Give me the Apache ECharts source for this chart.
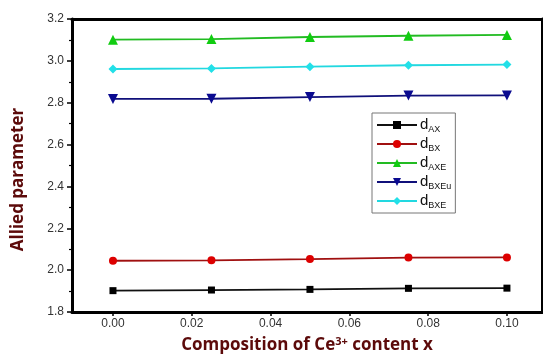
<!DOCTYPE html>
<html><head><meta charset="utf-8">
<script src="https://cdn.jsdelivr.net/npm/echarts@6/dist/echarts.min.js"></script>
<style>html,body{margin:0;padding:0;background:#fff}#c{width:543px;height:354px}</style>
</head><body><div id="c"></div>
<script>
const xValues = [0.00, 0.025, 0.05, 0.075, 0.10];
const xTicks = [0.00, 0.02, 0.04, 0.06, 0.08, 0.10];
const yTicks = [1.8, 2.0, 2.2, 2.4, 2.6, 2.8, 3.0, 3.2];
const dAX = [1.902, 1.905, 1.908, 1.913, 1.914];
const dBX = [2.045, 2.047, 2.053, 2.060, 2.061];
const dAXE = [3.101, 3.104, 3.114, 3.120, 3.124];
const dBXEu = [2.818, 2.819, 2.827, 2.834, 2.835];
const dBXE = [2.961, 2.964, 2.972, 2.979, 2.982];
const names = ['AX', 'BX', 'AXE', 'BXEu', 'BXE'];

const chart = echarts.init(document.getElementById('c'));
const pair = a => a.map((v, i) => [xValues[i], v]);
function mk(name, data, color, lineColor, symbol, size, rot) {
  return {
    name, type: 'line', data: pair(data), symbol, symbolSize: size, symbolRotate: rot || 0,
    lineStyle: { color: lineColor, width: 1.8 }, itemStyle: { color },
    emphasis: { disabled: true }
  };
}
const XMIN = -0.0104, XMAX = 0.1089;
const frame = { show: true, onZero: false, lineStyle: { color: '#000', width: 3 } };
chart.setOption({
  animation: false,
  textStyle: { fontFamily: 'Liberation Sans, Arial, sans-serif' },
  grid: { left: 72, right: 1, top: 19, bottom: 42, show: false, containLabel: false, outerBoundsMode: 'none' },
  legend: {
    orient: 'vertical', left: 372, top: 113,
    padding: [3, 4, 3, 4], itemGap: 1, itemWidth: 40, itemHeight: 10,
    borderColor: '#777', borderWidth: 1, backgroundColor: '#fff',
    data: names,
    formatter: n => '{d|d}{s|' + n + '}',
    textStyle: {
      padding: [0, 0, 0, -2],
      rich: {
        d: { fontSize: 15, color: '#111', lineHeight: 16 },
        s: { fontSize: 9, color: '#111', padding: [9, 0, 0, 0], lineHeight: 16 }
      }
    }
  },
  xAxis: [{
    type: 'value', min: XMIN, max: XMAX,
    name: '{a|Composition of Ce}{b|3+}{a| content x}', nameLocation: 'middle', nameGap: 24,
    nameTextStyle: { rich: {
      a: { fontSize: 17, fontWeight: 'bold', color: '#5c0a0a', fontFamily: 'Open Sans, sans-serif' },
      b: { fontSize: 11, fontWeight: 'bold', color: '#5c0a0a', padding: [0, 0, 8, 0], fontFamily: 'Open Sans, sans-serif' }
    } },
    axisLine: frame,
    axisTick: { show: true, length: 4, customValues: xTicks, lineStyle: { color: '#000', width: 1.5 } },
    axisLabel: { customValues: xTicks, formatter: v => v.toFixed(2), color: '#333', fontSize: 12, margin: 6 },
    splitLine: { show: false }
  }, {
    type: 'value', position: 'top', min: XMIN, max: XMAX,
    axisLine: frame, axisTick: { show: false }, axisLabel: { show: false }, splitLine: { show: false }
  }],
  yAxis: [{
    type: 'value', min: 1.8, max: 3.2, interval: 0.2,
    name: 'Allied parameter', nameLocation: 'middle', nameGap: 45,
    nameTextStyle: { fontSize: 17, fontWeight: 'bold', color: '#5c0a0a', fontFamily: 'Open Sans, sans-serif', padding: [0, 28, 0, 0] },
    axisLine: frame,
    axisTick: { show: true, length: 5, lineStyle: { color: '#000', width: 1.5 } },
    minorTick: { show: true, splitNumber: 2, length: 3, lineStyle: { color: '#000', width: 1.2 } },
    axisLabel: { formatter: v => v.toFixed(1), color: '#333', fontSize: 12, margin: 8 },
    splitLine: { show: false }
  }, {
    type: 'value', position: 'right', min: 1.8, max: 3.2,
    axisLine: frame, axisTick: { show: false }, axisLabel: { show: false }, splitLine: { show: false }
  }],
  series: [
    mk('AX', dAX, '#000', '#111', 'rect', 7),
    mk('BX', dBX, '#dd0000', '#a01010', 'circle', 8),
    mk('AXE', dAXE, '#11cc11', '#22bb22', 'triangle', 10),
    mk('BXEu', dBXEu, '#0a0a90', '#10107a', 'triangle', 10, 180),
    mk('BXE', dBXE, '#22e0e8', '#22d8e0', 'diamond', 9)
  ]
});
</script></body></html>
